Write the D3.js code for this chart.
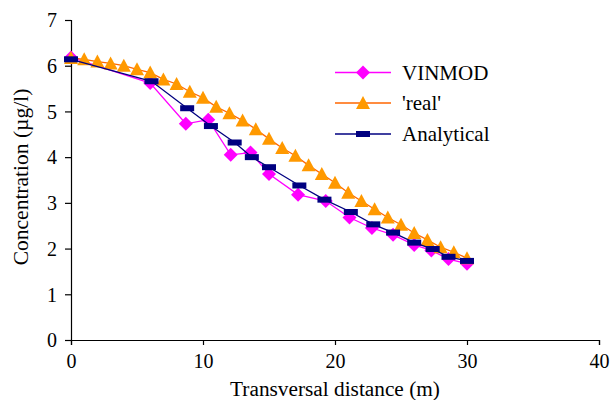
<!DOCTYPE html>
<html><head><meta charset="utf-8">
<script src="https://cdn.jsdelivr.net/npm/d3@7"></script>
</head><body style="margin:0">
<svg id="c" width="610" height="400" font-family="Liberation Serif"></svg>
<script>
const xTicks = [0,10,20,30,40];
const yTicks = [0,1,2,3,4,5,6,7];
const seriesNames = ["VINMOD","'real'","Analytical"];
const vinmodX = [0,6.0,8.7,10.4,12.1,13.6,15.0,17.2,19.3,21.1,22.8,24.4,26.0,27.3,28.6,30.0];
const vinmodY = [6.18,5.62,4.73,4.82,4.05,4.1,3.63,3.18,3.04,2.68,2.45,2.3,2.08,1.96,1.77,1.67];
const realX = [0,1,2,3,4,5,6,7,8,9,10,11,12,13,14,15,16,17,18,19,20,21,22,23,24,25,26,27,28,29,30];
const realY = [6.17,6.14,6.09,6.05,6.0,5.92,5.85,5.7,5.6,5.43,5.3,5.1,4.96,4.8,4.61,4.4,4.2,4.03,3.82,3.63,3.44,3.22,3.04,2.86,2.68,2.52,2.34,2.19,2.03,1.92,1.79];
const analX = [0,6.1,8.8,10.6,12.4,13.7,15.0,17.3,19.2,21.2,22.9,24.4,26.0,27.4,28.6,30.0];
const analY = [6.14,5.66,5.07,4.68,4.32,4.0,3.78,3.38,3.07,2.8,2.53,2.35,2.13,1.99,1.82,1.73];

const FONT = "Liberation Serif";
const svg = d3.select("#c");
const x = d3.scaleLinear().domain([0,40]).range([71,599]);
const y = d3.scaleLinear().domain([0,7]).range([340,20]);

const xa = svg.append("g").attr("transform","translate(0,340)")
  .call(d3.axisBottom(x).tickValues(xTicks).tickSize(5).tickPadding(9).tickFormat(d3.format("d")));
const ya = svg.append("g").attr("transform","translate(71,0)")
  .call(d3.axisLeft(y).tickValues(yTicks).tickSize(6).tickPadding(8).tickFormat(d3.format("d")));
[xa,ya].forEach(a=>{
  a.attr("font-family",FONT).attr("font-size",20);
  a.selectAll("path").attr("stroke","#000").attr("stroke-width",1.2);
  a.selectAll("line").attr("stroke","#000").attr("stroke-width",1.2);
  a.selectAll("text").attr("fill","#000").attr("font-family",FONT).attr("font-size",20);
});
ya.selectAll("text").attr("dy","0.34em");

svg.append("text").attr("x",335).attr("y",396).attr("text-anchor","middle")
  .attr("font-family",FONT).attr("font-size",21.3).text("Transversal distance (m)");
svg.append("text").attr("transform","translate(28,177) rotate(-90)").attr("text-anchor","middle")
  .attr("font-family",FONT).attr("font-size",21.5).text("Concentration (µg/l)");

const series = [
  {name:seriesNames[0], xs:vinmodX, ys:vinmodY, line:"#FF00FF", fill:"#FF00FF", sym:"diamond"},
  {name:seriesNames[1], xs:realX, ys:realY, line:"#FF6600", fill:"#FF9900", sym:"triangle"},
  {name:seriesNames[2], xs:analX, ys:analY, line:"#000080", fill:"#000080", sym:"dash"}
];
function marker(g, sym, fill){
  if(sym==="diamond") g.append("path").attr("d","M0,-7L7,0L0,7L-7,0Z").attr("fill",fill);
  else if(sym==="triangle") g.append("path").attr("d","M0,-7L7,6L-7,6Z").attr("fill",fill);
  else g.append("rect").attr("x",-7).attr("y",-3).attr("width",14).attr("height",6).attr("fill",fill);
}
const lineGen = d3.line().x(d=>x(d[0])).y(d=>y(d[1]));
series.forEach(s=>{
  const pts = s.xs.map((v,i)=>[v,s.ys[i]]);
  svg.append("path").attr("d",lineGen(pts)).attr("fill","none").attr("stroke",s.line).attr("stroke-width",1.3);
  pts.forEach(p=>{
    const g = svg.append("g").attr("transform",`translate(${x(p[0])},${y(p[1])})`);
    marker(g,s.sym,s.fill);
  });
});

const ly = [72.5,103,134];
series.forEach((s,i)=>{
  svg.append("line").attr("x1",335).attr("x2",391).attr("y1",ly[i]).attr("y2",ly[i]).attr("stroke",s.line).attr("stroke-width",1.3);
  const g = svg.append("g").attr("transform",`translate(363,${ly[i]})`);
  marker(g,s.sym,s.fill);
  svg.append("text").attr("x",402).attr("y",ly[i]).attr("dy","0.34em")
    .attr("font-family",FONT).attr("font-size",21).text(s.name);
});
</script>
</body></html>
